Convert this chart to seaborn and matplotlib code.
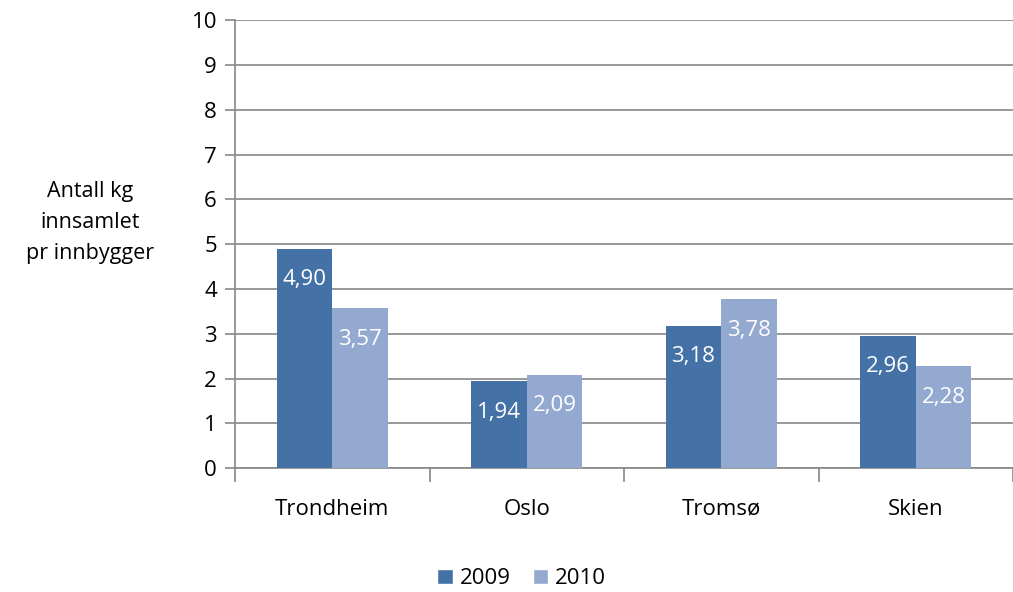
import seaborn as sns
import matplotlib.pyplot as plt
import pandas as pd
import numpy as np
from matplotlib.patches import Patch

# data
cities = ['Trondheim', 'Oslo', 'Tromsø', 'Skien']
v2009 = [4.90, 1.94, 3.18, 2.96]
v2010 = [3.57, 2.09, 3.78, 2.28]
years = ['2009', '2010']

df = pd.DataFrame({
    'By': cities * 2,
    'Aar': ['2009'] * 4 + ['2010'] * 4,
    'kg': v2009 + v2010,
})

sns.set_style('white')
plt.rcParams['font.family'] = ['Open Sans', 'DejaVu Sans']
plt.rcParams['text.color'] = 'black'
plt.rcParams['xtick.color'] = 'black'
plt.rcParams['ytick.color'] = 'black'

fs = 16

fig = plt.figure(figsize=(10.13, 5.92), dpi=100)
ax = fig.add_axes([0.232, 0.209, 0.768, 0.757])

pal = {'2009': '#4472A6', '2010': '#93A9D0'}
sns.barplot(data=df, x='By', y='kg', hue='Aar', hue_order=years, palette=pal,
            width=0.572, gap=0, saturation=1, linewidth=0, ax=ax, legend=False, zorder=3)

gcol = '#878787'
ax.set_ylim(0, 10)
ax.set_xlim(-0.5, 3.5)
ax.set_yticks(range(0, 11))
ax.yaxis.grid(True, color=gcol, linewidth=1.2, zorder=0)
ax.set_axisbelow(True)
for s in ['top', 'right']:
    ax.spines[s].set_visible(False)
for s in ['left', 'bottom']:
    ax.spines[s].set_color(gcol)
    ax.spines[s].set_linewidth(1.2)

ax.tick_params(axis='y', length=7, width=1.2, color=gcol, labelcolor='black',
               labelsize=fs, pad=6, left=True)
ax.tick_params(axis='x', which='major', length=0, labelsize=fs, labelcolor='black', pad=22)
ax.set_xticks(np.arange(-0.5, 4, 1), minor=True)
ax.tick_params(axis='x', which='minor', length=10, width=1.2, color=gcol, bottom=True)
ax.set_xlabel('')
ax.set_ylabel('')

fig.text(0.089, 0.624, 'Antall kg\ninnsamlet\npr innbygger', ha='center', va='center',
         fontsize=15.5, linespacing=1.62)

# value labels inside the bars
for cont in ax.containers:
    ax.bar_label(cont, labels=[f'{v:.2f}'.replace('.', ',') for v in cont.datavalues],
                 label_type='edge', padding=-30, color='white', fontsize=fs)

# legend
handles = [Patch(facecolor=pal[y], label=y) for y in years]
fig.legend(handles=handles, loc='center', bbox_to_anchor=(0.515, 0.022), ncol=2,
           frameon=False, fontsize=fs, handlelength=0.7, handleheight=0.7,
           handletextpad=0.3, columnspacing=1.0)

fig.savefig('out.png', dpi=100)
